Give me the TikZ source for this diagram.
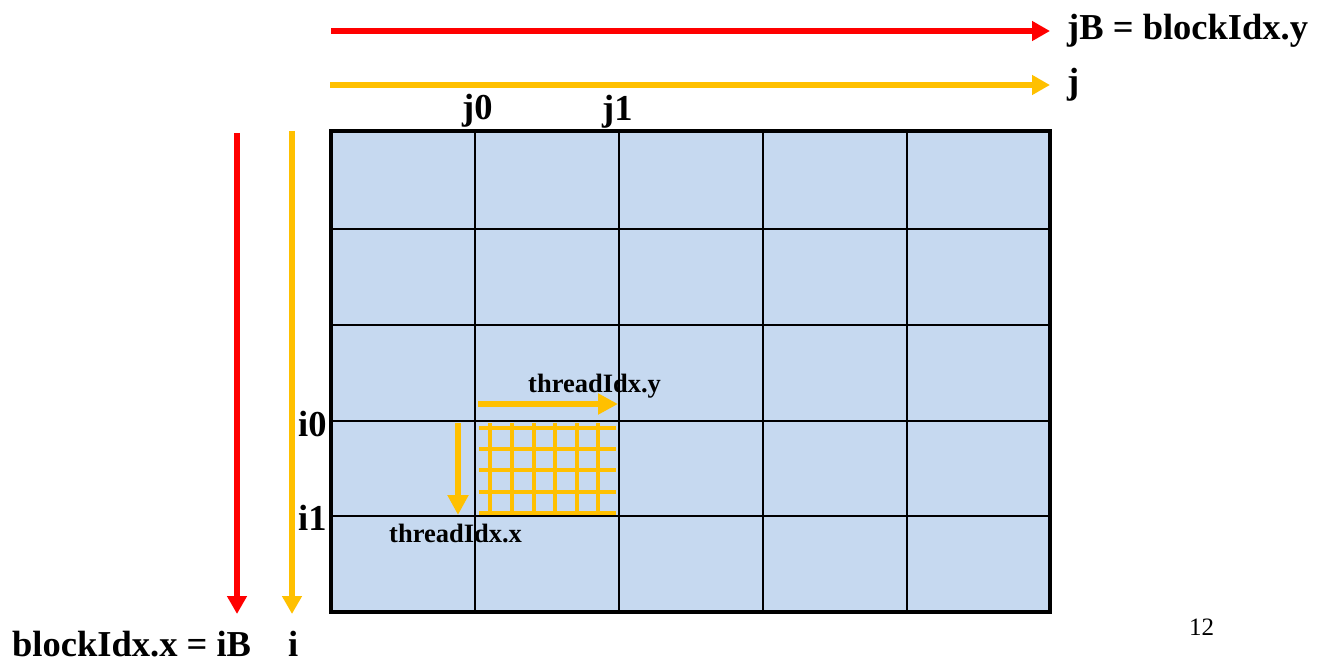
\documentclass[tikz,border=0pt]{standalone}
\usepackage{fontspec}
\setmainfont{Liberation Serif}
\usetikzlibrary{arrows.meta}
\definecolor{myred}{HTML}{FF0000}
\definecolor{myyel}{HTML}{FFC000}
\definecolor{cellblue}{HTML}{C6D9F0}
\tikzset{
  bigarrow/.style={line width=6pt, -{Triangle[length=18pt,width=19pt]}},
  smallarrow/.style={line width=6pt, -{Triangle[length=20pt,width=20pt]}},
  biglabel/.style={inner sep=0pt, font=\bfseries\fontsize{36.5}{36.5}\selectfont},
  thrlabel/.style={inner sep=0pt, font=\bfseries\fontsize{26.5}{26.5}\selectfont},
  gridline/.style={line width=2pt, black},
  thrline/.style={line width=3.5pt, myyel},
}
\begin{document}
\begin{tikzpicture}[x=1pt,y=-1pt]
\useasboundingbox (0,0) rectangle (1330,663);
% matrix grid
\fill[cellblue] (331,131) rectangle (1050,612);
\foreach \x in {475,619,763,907} \draw[gridline] (\x,131) -- (\x,612);
\foreach \y in {229,325,421,516} \draw[gridline] (331,\y) -- (1050,\y);
\draw[line width=4pt] (331,131) rectangle (1050,612);
% thread grid
\foreach \x in {490,512,534,555,577,598} \draw[thrline] (\x,423) -- (\x,515);
\foreach \y in {428,449,470,492,513} \draw[thrline] (479,\y) -- (616,\y);
% coordinates
\coordinate (rs) at (331,31);  \coordinate (re) at (1050,31);
\coordinate (ys) at (330,85);  \coordinate (ye) at (1050,85);
\coordinate (rvs) at (237,133); \coordinate (rve) at (237,614);
\coordinate (yvs) at (292,131); \coordinate (yve) at (292,614);
\coordinate (tys) at (478,404); \coordinate (tye) at (618,404);
\coordinate (txs) at (458,423); \coordinate (txe) at (458,515);
% arrows
\draw[bigarrow, myred] (rs) -- (re);
\draw[bigarrow, myyel] (ys) -- (ye);
\draw[bigarrow, myred] (rvs) -- (rve);
\draw[bigarrow, myyel] (yvs) -- (yve);
\draw[smallarrow, myyel] (tys) -- (tye);
\draw[smallarrow, myyel] (txs) -- (txe);
% labels
\node[biglabel, anchor=base west] (lJB) at (1067,40) {jB = blockIdx.y};
\node[biglabel, anchor=base west] (lJ) at (1067,94) {j};
\node[biglabel, anchor=base west] (lJ0) at (462,120) {j0};
\node[biglabel, anchor=base west] (lJ1) at (602,121) {j1};
\node[biglabel, anchor=base west] (lI0) at (298,436) {i0};
\node[biglabel, anchor=base west] (lI1) at (298,530) {i1};
\node[biglabel, anchor=base west] (lIB) at (12,656) {blockIdx.x = iB};
\node[biglabel, anchor=base west] (lI) at (288,656) {i};
\node[thrlabel, anchor=base west] (lTY) at (528,392) {threadIdx.y};
\node[thrlabel, anchor=base west] (lTX) at (389,542) {threadIdx.x};
\node[inner sep=0pt, anchor=base west, font=\fontsize{25}{25}\selectfont] (pg) at (1189,635) {12};
\end{tikzpicture}
\end{document}
